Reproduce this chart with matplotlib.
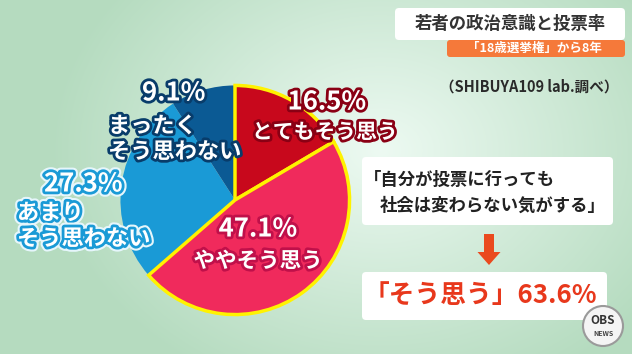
import numpy as np
import matplotlib
matplotlib.use('Agg')
import matplotlib.pyplot as plt
import matplotlib.patheffects as pe
from matplotlib.patches import FancyBboxPatch, FancyArrow, Circle

plt.rcParams['font.family'] = ['Noto Sans CJK JP', 'DejaVu Sans']

# data
labels = ['とてもそう思う', 'ややそう思う', 'あまり\nそう思わない', 'まったく\nそう思わない']
values = [16.5, 47.1, 27.3, 9.1]
colors = ['#c8081c', '#f02a5c', '#1a9ad6', '#0b5a94']
stroke = ['#8a0014', '#c0104a', '#1a9ad6', '#083c6a']

title = '若者の政治意識と投票率'
subtitle = '「18歳選挙権」から8年'
source = '（SHIBUYA109 lab.調べ）'
quote1 = '「自分が投票に行っても'
quote2 = '社会は変わらない気がする」'
agree = '「そう思う」{:.1f}%'.format(values[0] + values[1])

W, H = 632, 354
fig = plt.figure(figsize=(W / 100, H / 100), dpi=100)

# background
bg = fig.add_axes([0, 0, 1, 1])
bg.set_xlim(0, W)
bg.set_ylim(H, 0)
bg.axis('off')
yy, xx = np.mgrid[0:H, 0:W]
d = np.sqrt(((xx - 380) / 330.0) ** 2 + ((yy - 150) / 260.0) ** 2)
d = np.clip(d, 0, 1)
c_in = np.array([0.93, 0.98, 0.95])
c_out = np.array([0.71, 0.86, 0.75])
img = c_in[None, None, :] * (1 - d[..., None]) + c_out[None, None, :] * d[..., None]
bg.imshow(img, extent=(0, W, H, 0), aspect='auto', zorder=0)

# pie
r = 118
cx, cy = 235, 200
pax = fig.add_axes([(cx - r) / W, (H - cy - r) / H, 2 * r / W, 2 * r / H])
wedges, _ = pax.pie(values, colors=colors, startangle=90, counterclock=False,
                    wedgeprops=dict(linewidth=0))
for w in wedges[:2]:
    w.set_edgecolor('#fff200')
    w.set_linewidth(2.5)
    w.set_zorder(3)
pax.set_xlim(-1.03, 1.03)
pax.set_ylim(-1.03, 1.03)
pax.axis('off')

# overlay for text and boxes
ov = fig.add_axes([0, 0, 1, 1])
ov.set_xlim(0, W)
ov.set_ylim(H, 0)
ov.axis('off')
ov.patch.set_alpha(0)


def outlined(x, y, s, size, col, ha='center', glow=None):
    effects = [pe.withStroke(linewidth=4, foreground=col)]
    if glow:
        effects = [pe.withStroke(linewidth=7, foreground=glow)] + effects
    ov.text(x, y, s, fontsize=size, color='white', fontweight='bold',
            ha=ha, va='center', path_effects=effects, linespacing=1.15)


# slice labels
outlined(327, 102, '{}%'.format(values[0]), 18.5, stroke[0])
outlined(325, 132, labels[0], 15, stroke[0])
outlined(258, 229, '{}%'.format(values[1]), 18.5, stroke[1])
outlined(258, 261, labels[1], 15.5, stroke[1])
outlined(44, 184, '{}%'.format(values[2]), 18.5, stroke[2], ha='left', glow='#e6f6fb')
outlined(17, 226, labels[2], 16, stroke[2], ha='left', glow='#e6f6fb')
outlined(142, 93, '{}%'.format(values[3]), 18.5, stroke[3], ha='left')
outlined(108, 139, labels[3], 16, stroke[3], ha='left')

# title block
ov.add_patch(FancyBboxPatch((447, 40), 178, 17, boxstyle='round,pad=0,rounding_size=3',
                            fc='#f5793a', ec='none'))
ov.add_patch(FancyBboxPatch((395, 8), 230, 32, boxstyle='round,pad=0,rounding_size=4',
                            fc='white', ec='none'))
ov.text(510, 24, title, fontsize=12.5, fontweight='bold', color='#333333',
        ha='center', va='center')
ov.text(534, 48.5, subtitle, fontsize=9, fontweight='bold', color='white',
        ha='center', va='center')
ov.text(529, 87, source, fontsize=10.5, fontweight='bold', color='#2a2a2a',
        ha='center', va='center')

# quote box
ov.add_patch(FancyBboxPatch((362, 157), 251, 68, boxstyle='round,pad=0,rounding_size=4',
                            fc='white', ec='none'))
ov.text(364, 180, quote1, fontsize=12.5, fontweight='bold', color='#222222',
        ha='left', va='center')
ov.text(380, 206, quote2, fontsize=12.5, fontweight='bold', color='#222222',
        ha='left', va='center')

# arrow
ov.add_patch(FancyArrow(489, 234, 0, 31, width=10, head_width=23, head_length=13,
                        length_includes_head=True, fc='#ea4a1e', ec='none'))

# result box
ov.add_patch(FancyBboxPatch((362, 272), 245, 48, boxstyle='round,pad=0,rounding_size=4',
                            fc='white', ec='none'))
ov.text(364, 295, agree, fontsize=18.5, fontweight='bold', color='#e8381c',
        ha='left', va='center')

# logo
ov.add_patch(Circle((603, 326), 20, fc='#f4f4f4', ec='#9a9a9a', lw=1.5, zorder=5))
ov.text(603, 321, 'OBS', fontsize=8.5, fontweight='bold', color='#333333',
        ha='center', va='center', zorder=6)
ov.text(603, 334, 'NEWS', fontsize=5, fontweight='bold', color='#444444',
        ha='center', va='center', zorder=6)

fig.savefig('out.png', dpi=100)
